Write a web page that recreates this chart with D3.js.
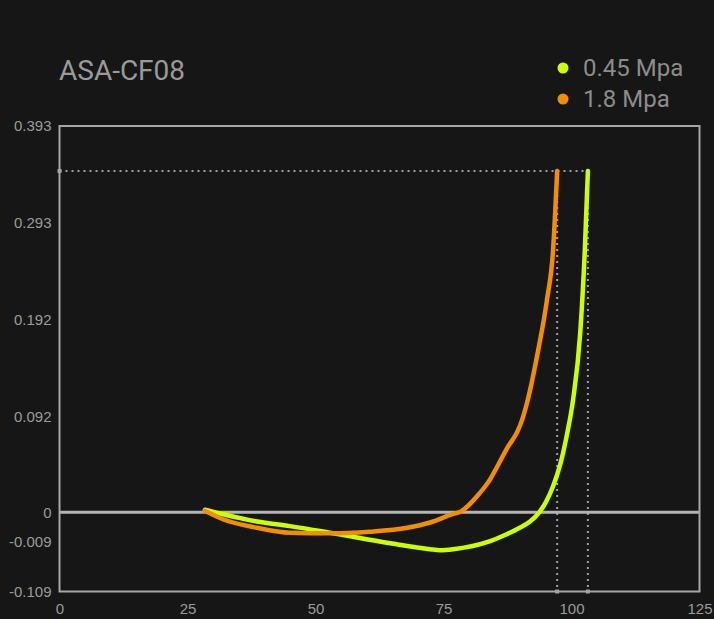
<!DOCTYPE html>
<html>
<head>
<meta charset="utf-8">
<script src="https://cdn.jsdelivr.net/npm/d3@7"></script>
<style>
    html, body { margin: 0; padding: 0; background: #161616; }
    svg { display: block; font-family: Roboto, "Noto Sans", sans-serif; }
</style>
</head>
<body>
<svg id="chart" width="714" height="619"></svg>
<script>
const chartTitle = 'ASA-CF08';
const seriesNames = ['0.45 Mpa', '1.8 Mpa'];
const seriesColors = ['#ccff00', '#f28e00'];

// 0.45 Mpa curve
const lowX = [28.4, 38.6, 45.0, 52.8, 64.6, 72.4, 74.3, 76.9, 83.5, 87.0, 89.9, 91.9, 93.7, 95.0, 96.4, 97.8, 99.1, 100.3, 101.7, 102.6, 103.2];
const lowY = [0.0025, -0.0028, -0.0042, -0.0062, -0.0116, -0.0237, -0.0257, -0.0237, -0.0096, -0.0069, -0.0047, -0.0028, 0, 0.0098, 0.025, 0.046, 0.0744, 0.109, 0.178, 0.264, 0.3464];

// 1.8 Mpa curve
const highX = [28.4, 31.9, 38.6, 45.0, 52.8, 60.6, 67.9, 72.4, 76.9, 78.2, 81.9, 84.1, 85.5, 87.6, 89.4, 90.4, 91.3, 93.5, 95.2, 96.4, 97.2];
const highY = [0.0015, -0.0021, -0.0047, -0.0062, -0.0064, -0.0059, -0.0047, -0.0031, -0.0005, 0.0003, 0.0174, 0.0316, 0.044, 0.063, 0.0772, 0.0895, 0.1059, 0.1606, 0.2123, 0.2644, 0.3464];

const xTicks = [0, 25, 50, 75, 100, 125];
const yTicks = [-0.109, -0.009, 0, 0.092, 0.192, 0.293, 0.393];

const svg = d3.select('#chart');
const margin = {top: 126, right: 14.5, bottom: 27.5, left: 59.5};
const width = +svg.attr('width') - margin.left - margin.right;
const height = +svg.attr('height') - margin.top - margin.bottom;

const g = svg.append('g')
    .attr('transform', `translate(${margin.left},${margin.top})`);

const x = d3.scaleLinear()
    .domain([0, 125])
    .range([0, width]);

// the value axis is not even: the labels above zero sit on equal steps,
// the two below zero are squeezed into the bottom band
const yStops = [1, 0.8935, 0.8299, 0.6241, 0.4157, 0.2073, 0];
const y = d3.scaleLinear()
    .domain(yTicks)
    .range(yStops.map(f => f * height));

const series = [
    {name: seriesNames[0], color: seriesColors[0], points: lowX.map((v, i) => ({x: v, y: lowY[i]}))},
    {name: seriesNames[1], color: seriesColors[1], points: highX.map((v, i) => ({x: v, y: highY[i]}))}
];

// title
svg.append('text')
    .attr('x', 59)
    .attr('y', 80)
    .attr('fill', '#9a9a9a')
    .style('font-size', '28px')
    .text(chartTitle);

// legend
const legend = svg.append('g').attr('transform', 'translate(563,0)');
series.forEach((s, i) => {
    const cy = 68 + i * 31;
    legend.append('circle')
        .attr('cx', 0)
        .attr('cy', cy)
        .attr('r', 5.5)
        .attr('fill', s.color);
    legend.append('text')
        .attr('x', 20)
        .attr('y', cy + 8)
        .attr('fill', '#8c8c8c')
        .style('font-size', '24px')
        .text(s.name);
});

// axes
const yAxis = d3.axisLeft(y)
    .tickValues(yTicks)
    .tickSize(0)
    .tickPadding(8)
    .tickFormat(d => String(d));

g.append('g')
    .attr('class', 'y-axis')
    .call(yAxis)
    .call(a => a.select('.domain').remove())
    .selectAll('text')
    .attr('fill', '#9b9b9b')
    .style('font-size', '15px');

const xAxis = d3.axisBottom(x)
    .tickValues(xTicks)
    .tickSize(0)
    .tickPadding(12)
    .tickFormat(d => String(d));

g.append('g')
    .attr('class', 'x-axis')
    .attr('transform', `translate(0,${height})`)
    .call(xAxis)
    .call(a => a.select('.domain').remove())
    .selectAll('text')
    .attr('fill', '#9b9b9b')
    .style('font-size', '15px');

// dotted guides from the end of each curve
const topY = d3.max(series, s => s.points[s.points.length - 1].y);
const farX = d3.max(series, s => s.points[s.points.length - 1].x);

g.append('line')
    .attr('x1', 0)
    .attr('x2', x(farX))
    .attr('y1', y(topY))
    .attr('y2', y(topY))
    .attr('stroke', '#a0a0a0')
    .attr('stroke-width', 2)
    .attr('stroke-dasharray', '2,4');

series.forEach(s => {
    const last = s.points[s.points.length - 1];
    g.append('line')
        .attr('x1', x(last.x))
        .attr('x2', x(last.x))
        .attr('y1', y(last.y))
        .attr('y2', height)
        .attr('stroke', '#a0a0a0')
        .attr('stroke-width', 2)
        .attr('stroke-dasharray', '2,4');
    g.append('rect')
        .attr('x', x(last.x) - 2)
        .attr('y', height - 2)
        .attr('width', 4)
        .attr('height', 4)
        .attr('fill', '#a0a0a0');
});
g.append('rect')
    .attr('x', -2)
    .attr('y', y(topY) - 2)
    .attr('width', 4)
    .attr('height', 4)
    .attr('fill', '#a0a0a0');

// zero line
g.append('line')
    .attr('x1', 0)
    .attr('x2', width)
    .attr('y1', y(0))
    .attr('y2', y(0))
    .attr('stroke', '#b4b4b4')
    .attr('stroke-width', 3);

// plot frame
g.append('rect')
    .attr('x', 0)
    .attr('y', 0)
    .attr('width', width)
    .attr('height', height)
    .attr('fill', 'none')
    .attr('stroke', '#a6a6a6')
    .attr('stroke-width', 2);

const line = d3.line()
    .x(d => x(d.x))
    .y(d => y(d.y))
    .curve(d3.curveMonotoneX);

// orange drawn last so it sits on top like the reference start
series.forEach(s => {
    g.append('path')
        .datum(s.points)
        .attr('fill', 'none')
        .attr('stroke', s.color)
        .attr('stroke-width', 4.5)
        .attr('stroke-linejoin', 'round')
        .attr('stroke-linecap', 'round')
        .attr('d', line);
});
</script>
</body>
</html>
